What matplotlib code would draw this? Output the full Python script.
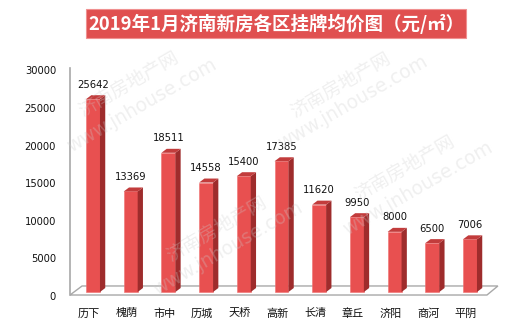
import matplotlib
matplotlib.use("Agg")
import matplotlib.pyplot as plt
import matplotlib.transforms as mtransforms
from matplotlib.patches import Polygon, Rectangle
import numpy as np

plt.rcParams['font.family'] = ['Noto Sans CJK SC', 'DejaVu Sans']

title = "2019年1月济南新房各区挂牌均价图（元/㎡）"
categories = ["历下", "槐荫", "市中", "历城", "天桥", "高新", "长清", "章丘", "济阳", "商河", "平阴"]
values = [25642, 13369, 18511, 14558, 15400, 17385, 11620, 9950, 8000, 6500, 7006]
yticks = [0, 5000, 10000, 15000, 20000, 25000, 30000]
wm_cn = "济南房地产网"
wm_en = "www.jnhouse.com"

W, H = 510, 330
fig = plt.figure(figsize=(W / 100, H / 100), dpi=100)
ax = fig.add_axes([70 / W, 1 - 300 / H, 430 / W, 240 / H])
ax.set_xlim(-0.61, 10.796)
ax.set_ylim(-1064, 30851)
for s in ax.spines.values():
    s.set_visible(False)

front_c = '#E85050'
side_c = '#9E2C2C'
top_c = '#C23C3C'
bw = 0.37
dx = 0.14
dy = 530

# floor
floor = Polygon([(-0.61, -400), (10.45, -400), (10.74, 800), (-0.29, 800)],
                closed=True, facecolor='white', edgecolor='#a8a8a8', lw=1.0, zorder=1)
ax.add_patch(floor)
# y axis line
ax.plot([-0.61, -0.61], [-400, 29800], color='#a8a8a8', lw=1.2, clip_on=False, zorder=2)

x = np.arange(len(categories))
ax.bar(x, values, width=bw, color=front_c, edgecolor='#F07070', lw=0.4, zorder=3)
for xi, v in zip(x, values):
    side = Polygon([(xi + bw / 2, 0), (xi + bw / 2 + dx, dy), (xi + bw / 2 + dx, v + dy), (xi + bw / 2, v)],
                   closed=True, facecolor=side_c, edgecolor='none', zorder=3)
    top = Polygon([(xi - bw / 2, v), (xi + bw / 2, v), (xi + bw / 2 + dx, v + dy), (xi - bw / 2 + dx, v + dy)],
                  closed=True, facecolor=top_c, edgecolor='none', zorder=3)
    ax.add_patch(side)
    ax.add_patch(top)
    ax.annotate(f"{v}", (xi, v + dy), xytext=(0, 4), textcoords='offset points',
                ha='center', va='bottom', fontsize=7.2, family='DejaVu Sans', color='#111111', zorder=5)

ax.set_yticks(yticks)
ax.set_yticklabels([str(t) for t in yticks], fontsize=7.2, family='DejaVu Sans', color='#111111')
ax.set_xticks(x)
ax.set_xticklabels(categories, fontsize=8, color='#111111')
ax.tick_params(axis='y', length=0, pad=10)
ax.tick_params(axis='x', length=0, pad=6)
off_y = mtransforms.ScaledTranslation(0, -0.04, fig.dpi_scale_trans)
for lab in ax.get_yticklabels():
    lab.set_transform(lab.get_transform() + off_y)
off_x = mtransforms.ScaledTranslation(-0.04, 0, fig.dpi_scale_trans)
for lab in ax.get_xticklabels():
    lab.set_transform(lab.get_transform() + off_x)

# title box
fig.patches.append(Rectangle((86 / W, 1 - 38 / H), 380 / W, 29 / H, transform=fig.transFigure,
                             facecolor='#E05050', edgecolor='#F09090', lw=0.8, zorder=0))
fig.text(276 / W, 1 - 23.5 / H, title, ha='center', va='center', color='white',
         fontsize=13.3, fontweight='bold')

# watermarks
wm_pos = [((129, 84), (142, 105)), ((341, 85), (353, 102)),
          ((217, 229), (228, 248)), ((405, 168), (418, 188))]
for (cx, cy), (ex, ey) in wm_pos:
    fig.text(cx / W, 1 - cy / H, wm_cn, rotation=30, ha='center', va='center',
             fontsize=13.5, color='#cccccc', alpha=0.3, rotation_mode='anchor', zorder=10)
    fig.text(ex / W, 1 - ey / H, wm_en, rotation=30, ha='center', va='center',
             fontsize=13.5, family='DejaVu Sans', color='#cccccc', alpha=0.3,
             rotation_mode='anchor', zorder=10)

fig.savefig("out.png", dpi=100)
